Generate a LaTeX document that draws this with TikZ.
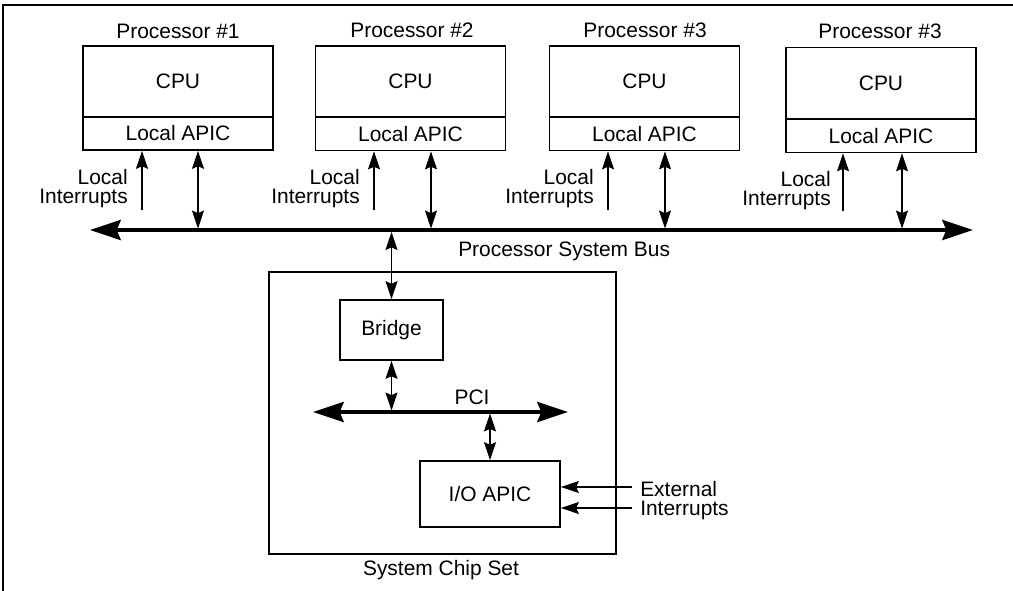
\documentclass[tikz,border=0pt]{standalone}
\usepackage{fontspec}
\setmainfont{Liberation Sans}
\usetikzlibrary{arrows.meta}
\begin{document}
\begin{tikzpicture}[x=0.75pt,y=-0.75pt,
  every node/.style={font=\fontsize{15.7pt}{18.5pt}\selectfont, inner sep=0pt},
  box/.style={draw, line width=1.3pt},
  cpubox/.style={box, minimum width=142.5pt, minimum height=53.25pt},
  apicbox/.style={box, minimum width=142.5pt, minimum height=24.75pt},
  bigtip/.tip={Stealth[length=23pt, width=15pt, inset=3pt]},
  smalltip/.tip={Stealth[length=13.5pt, width=9pt, inset=2pt]},
  busline/.style={line width=3pt, bigtip-bigtip},
  thin/.style={line width=0.8pt},
  uni/.style={thin, -smalltip},
  bi/.style={thin, smalltip-smalltip},
  frame/.style={line width=2pt}
]
\useasboundingbox (0,0) rectangle (1013,590);
% frame
\coordinate (fbl) at (3,591);
\coordinate (ftl) at (3,5);
\coordinate (ftr) at (1014,5);
\draw[frame] (fbl) -- (ftl) -- (ftr);

% processors
\node[cpubox] (c1) at (178,81.5) {CPU};
\node[apicbox] (a1) at (178,133.5) {Local APIC};
\node[anchor=base] (t1) at (178,38) {Processor \#1};

\node[cpubox] (c2) at (410.5,81.5) {CPU};
\node[apicbox] (a2) at (410.5,134) {Local APIC};
\node[anchor=base] (t2) at (412,37.5) {Processor \#2};

\node[cpubox] (c3) at (644.5,81.5) {CPU};
\node[apicbox] (a3) at (644.5,134) {Local APIC};
\node[anchor=base] (t3) at (645,37.5) {Processor \#3};

\node[cpubox] (c4) at (881,83) {CPU};
\node[apicbox] (a4) at (881,136) {Local APIC};
\node[anchor=base] (t4) at (880,38.5) {Processor \#3};

% local interrupt labels
\node[anchor=base east] (l1a) at (128,184) {Local};
\node[anchor=base east] (l1b) at (128,203) {Interrupts};
\node[anchor=base east] (l2a) at (360,184) {Local};
\node[anchor=base east] (l2b) at (360,203) {Interrupts};
\node[anchor=base east] (l3a) at (594,184) {Local};
\node[anchor=base east] (l3b) at (594,203) {Interrupts};
\node[anchor=base east] (l4a) at (831,186) {Local};
\node[anchor=base east] (l4b) at (831,205) {Interrupts};

% local interrupt arrows
\coordinate (li1) at (142,210);
\coordinate (li2) at (374,210);
\coordinate (li3) at (608,210);
\coordinate (li4) at (843,211);
\draw[uni] (li1) -- (li1 |- a1.south);
\draw[uni] (li2) -- (li2 |- a2.south);
\draw[uni] (li3) -- (li3 |- a3.south);
\draw[uni] (li4) -- (li4 |- a4.south);

% system bus
\coordinate (busL) at (90,230);
\coordinate (busR) at (973,230);
\draw[busline] (busL) -- (busR);
\node[anchor=base west] (busT) at (458,256) {Processor System Bus};

% bus to APIC
\coordinate (b1) at (198,228.5);
\coordinate (b2) at (431,228.5);
\coordinate (b3) at (665,228.5);
\coordinate (b4) at (902,228.5);
\draw[bi] (b1) -- (b1 |- a1.south);
\draw[bi] (b2) -- (b2 |- a2.south);
\draw[bi] (b3) -- (b3 |- a3.south);
\draw[bi] (b4) -- (b4 |- a4.south);

% chip set
\node[box, minimum width=260.25pt, minimum height=211.5pt] (cs) at (442.5,413) {};
\node[anchor=base] (csT) at (441,575) {System Chip Set};
\node[box, minimum width=77.25pt, minimum height=45pt] (br) at (391.5,330) {Bridge};
\node[box, minimum width=105pt, minimum height=49.5pt] (io) at (490,494) {I/O APIC};

\coordinate (bb) at (391.5,232);
\draw[bi] (bb) -- (br.north);

\coordinate (pciL) at (313,412);
\coordinate (pciR) at (568,412);
\draw[busline] (pciL) -- (pciR);
\node[anchor=base] (pciT) at (472,404) {PCI};

\coordinate (pb) at (391.5,410.5);
\draw[bi] (br.south) -- (pb);
\coordinate (pi) at (490,413.5);
\draw[bi] (pi) -- (io.north);

% external interrupts
\coordinate (e1) at (632,487);
\coordinate (e2) at (632,508);
\draw[uni] (e1) -- (e1 -| io.east);
\draw[uni] (e2) -- (e2 -| io.east);
\node[anchor=base west] (ext1) at (640,496) {External};
\node[anchor=base west] (ext2) at (640,515) {Interrupts};
\end{tikzpicture}
\end{document}
